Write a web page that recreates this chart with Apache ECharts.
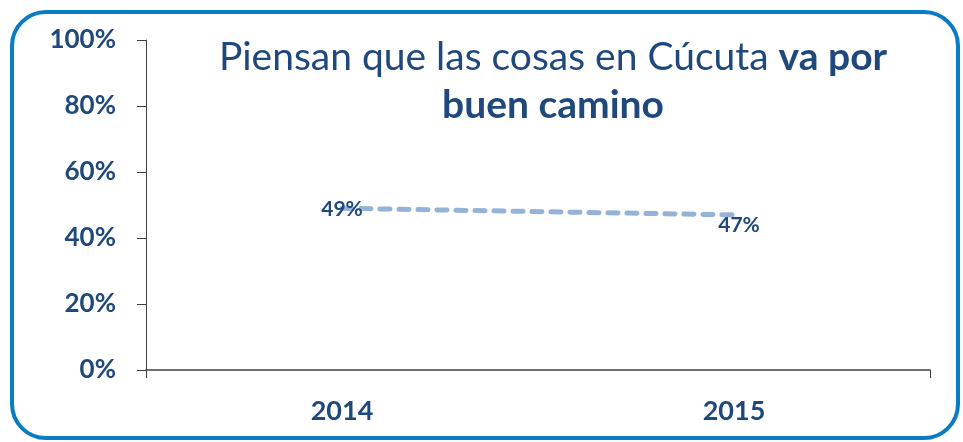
<!DOCTYPE html>
<html>
<head>
<meta charset="utf-8">
<script src="https://cdn.jsdelivr.net/npm/echarts@6/dist/echarts.min.js"></script>
<style>
  html, body { margin: 0; padding: 0; background: #fff; }
  #main { width: 963px; height: 442px; }
</style>
</head>
<body>
<div id="main"></div>
<script>
var years = ['2014', '2015'];
var values = [49, 47];
var yTicks = [0, 20, 40, 60, 80, 100];

var textColor = '#1f497d';
var chart = echarts.init(document.getElementById('main'));

var option = {
    backgroundColor: '#fff',
    animation: false,
    title: {
        text: 'Piensan que las cosas en Cúcuta {b|va por}\n{b|buen camino}',
        left: 548,
        top: 28,
        textAlign: 'center',
        textStyle: {
            fontFamily: 'Lato',
            fontSize: 39,
            fontWeight: 'normal',
            color: textColor,
            lineHeight: 48,
            rich: {
                b: { fontFamily: 'Lato', fontSize: 39, fontWeight: 'bold', color: textColor, lineHeight: 48 }
            }
        }
    },
    graphic: [{
        type: 'rect',
        shape: { x: 12, y: 12, width: 946, height: 426, r: 34 },
        style: { fill: 'none', stroke: '#0a7cc4', lineWidth: 4 },
        silent: true
    }],
    grid: { left: 146, right: 33, top: 40, bottom: 72 },
    xAxis: {
        type: 'category',
        data: years,
        boundaryGap: true,
        axisLine: { lineStyle: { color: '#404040', width: 1.5 } },
        axisTick: { show: true, interval: 1, length: 8, lineStyle: { color: '#404040', width: 1 } },
        axisLabel: {
            margin: 28,
            fontFamily: 'Lato',
            fontSize: 27,
            fontWeight: 'bold',
            color: textColor
        },
        splitLine: { show: false }
    },
    yAxis: {
        type: 'value',
        min: yTicks[0],
        max: yTicks[yTicks.length - 1],
        interval: 20,
        axisLine: { show: true, lineStyle: { color: '#404040', width: 1 } },
        axisTick: { show: true, length: 9, lineStyle: { color: '#404040' } },
        splitLine: { show: false },
        axisLabel: {
            margin: 30,
            fontFamily: 'Lato',
            fontSize: 26,
            fontWeight: 'bold',
            color: textColor,
            formatter: '{value}%'
        }
    },
    series: [{
        type: 'line',
        data: [
            { value: values[0], label: { position: 'inside', offset: [0, 1] } },
            { value: values[1], label: { position: 'inside', offset: [5, 10] } }
        ],
        symbol: 'circle',
        symbolSize: 1,
        itemStyle: { color: 'rgba(0,0,0,0)' },
        lineStyle: { color: '#95b3d7', width: 5, type: [10, 9], cap: 'round' },
        label: {
            show: true,
            formatter: '{c}%',
            fontFamily: 'Lato',
            fontSize: 21,
            fontWeight: 'bold',
            color: textColor
        }
    }]
};

chart.setOption(option);
</script>
</body>
</html>
